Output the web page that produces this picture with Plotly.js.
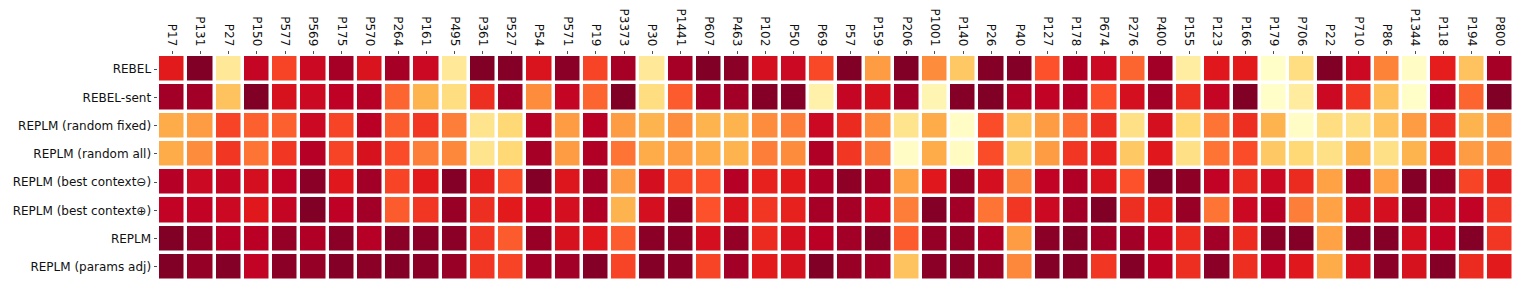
<!DOCTYPE html>
<html>
<head>
<meta charset="utf-8">
<script src="https://cdn.plot.ly/plotly-3.0.1.min.js"></script>
<style>html,body{margin:0;padding:0;background:#fff;}#chart{width:1523px;height:290px;}</style>
</head>
<body>
<div id="chart"></div>
<script>
const relations = ["P17","P131","P27","P150","P577","P569","P175","P570","P264","P161","P495","P361","P527","P54","P571","P19","P3373","P30","P1441","P607","P463","P102","P50","P69","P57","P159","P206","P1001","P140","P26","P40","P127","P178","P674","P276","P400","P155","P123","P166","P179","P706","P22","P710","P86","P1344","P118","P194","P800"];
const models = ["REBEL","REBEL-sent","REPLM (random fixed)","REPLM (random all)","REPLM (best context\u2296)","REPLM (best context\u2295)","REPLM","REPLM (params adj)"];

const rebel =          [0.75,1.0,0.15,0.85,0.65,0.83,0.92,0.78, 0.92,0.83,0.15,1.0,0.99,0.78,0.98,0.65, 0.92,0.15,0.92,1.0,0.98,0.8,0.83,0.64, 1.0,0.45,1.0,0.5,0.3,0.99,0.99,0.62, 0.9,0.83,0.58,0.93,0.12,0.76,0.75,0.01, 0.22,1.0,0.83,0.52,0.02,0.74,0.32,0.92];
const rebelSent =      [0.93,0.93,0.32,1.0,0.79,0.83,0.87,0.89, 0.58,0.37,0.22,0.7,0.93,0.5,0.85,0.58, 1.0,0.22,0.6,0.93,0.93,0.99,0.99,0.1, 0.85,0.79,0.93,0.07,0.99,1.0,0.9,0.86, 0.89,0.62,0.8,0.93,0.7,0.85,1.0,0.01, 0.13,0.83,0.68,0.32,0.01,0.89,0.58,1.0];
const randomFixed =    [0.4,0.45,0.65,0.59,0.59,0.83,0.65,0.88, 0.6,0.68,0.53,0.18,0.25,0.89,0.45,0.88, 0.45,0.37,0.5,0.37,0.37,0.5,0.53,0.83, 0.71,0.5,0.18,0.4,0.02,0.63,0.32,0.45, 0.56,0.7,0.2,0.8,0.25,0.55,0.7,0.37, 0.02,0.22,0.2,0.32,0.45,0.7,0.37,0.48];
const randomAll =      [0.4,0.5,0.68,0.55,0.68,0.89,0.65,0.79, 0.63,0.53,0.51,0.18,0.25,0.92,0.45,0.9, 0.55,0.4,0.45,0.4,0.37,0.53,0.5,0.9, 0.68,0.53,0.02,0.4,0.03,0.63,0.28,0.45, 0.68,0.73,0.3,0.76,0.2,0.55,0.63,0.3, 0.25,0.2,0.37,0.2,0.37,0.73,0.45,0.5];
const bestCtxMinus =   [0.89,0.83,0.85,0.8,0.86,0.98,0.76,0.93, 0.65,0.75,0.99,0.73,0.63,0.99,0.77,0.93, 0.45,0.8,0.65,0.62,0.89,0.73,0.75,0.9, 0.97,0.92,0.43,0.76,0.95,0.8,0.51,0.86, 0.9,0.78,0.62,0.99,0.97,0.86,0.71,0.83, 0.71,0.43,0.93,0.43,0.99,0.95,0.65,0.73];
const bestCtxPlus =    [0.86,0.86,0.83,0.76,0.85,1.0,0.87,0.93, 0.6,0.68,0.95,0.7,0.75,0.86,0.8,0.9, 0.37,0.8,0.97,0.62,0.78,0.68,0.73,0.92, 0.92,0.85,0.53,0.99,0.93,0.55,0.68,0.83, 0.93,1.0,0.7,0.73,0.95,0.55,0.83,0.89, 0.53,0.43,0.79,0.8,0.95,0.83,0.86,0.68];
const replm =          [1.0,0.96,0.89,0.88,0.96,0.9,0.98,0.89, 0.98,0.98,0.98,0.68,0.6,0.95,0.79,0.76, 0.6,0.98,0.98,0.8,0.96,0.71,0.8,0.88, 0.93,0.98,0.6,0.96,0.96,0.9,0.45,0.98, 0.99,0.93,0.93,0.86,0.71,0.93,0.71,0.98, 0.99,0.43,0.98,0.99,0.8,0.86,0.99,0.68];
const paramsAdj =      [1.0,0.96,0.99,0.86,0.98,0.96,0.99,0.98, 0.99,0.98,0.95,0.68,0.65,0.93,0.93,0.99, 0.65,0.99,0.98,0.65,0.93,0.75,0.79,1.0, 0.95,0.93,0.32,0.98,0.98,0.95,0.51,0.99, 0.99,0.68,0.99,0.88,0.7,0.98,0.7,0.86, 0.76,0.4,0.78,0.98,0.79,0.99,0.71,0.75];

const z = [rebel, rebelSent, randomFixed, randomAll, bestCtxMinus, bestCtxPlus, replm, paramsAdj];

const ylorrd = [
  [0.0,'#ffffcc'],[0.125,'#ffeda0'],[0.25,'#fed976'],[0.375,'#feb24c'],
  [0.5,'#fd8d3c'],[0.625,'#fc4e2a'],[0.75,'#e31a1c'],[0.875,'#bd0026'],[1.0,'#800026']
];

const trace = {
  type: 'heatmap',
  x: relations,
  y: models,
  z: z,
  zmin: 0, zmax: 1,
  colorscale: ylorrd,
  showscale: false,
  xgap: 3.5, ygap: 3.5,
  hoverongaps: false
};

const layout = {
  width: 1523, height: 290,
  margin: {l: 158, r: 9, t: 55, b: 9, pad: 0},
  paper_bgcolor: '#ffffff',
  plot_bgcolor: '#ffffff',
  font: {family: 'DejaVu Sans, sans-serif', size: 12, color: '#111'},
  xaxis: {
    side: 'top', type: 'category', tickangle: 90,
    ticks: 'outside', ticklen: 3.5, tickwidth: 0.8, tickcolor: '#222',
    showgrid: false, zeroline: false, showline: false,
    tickfont: {size: 12}
  },
  yaxis: {
    type: 'category', autorange: 'reversed',
    ticks: 'outside', ticklen: 3.5, tickwidth: 0.8, tickcolor: '#222',
    showgrid: false, zeroline: false, showline: false,
    tickfont: {size: 12}
  }
};

Plotly.newPlot('chart', [trace], layout, {displayModeBar: false, staticPlot: true});
</script>
</body>
</html>
